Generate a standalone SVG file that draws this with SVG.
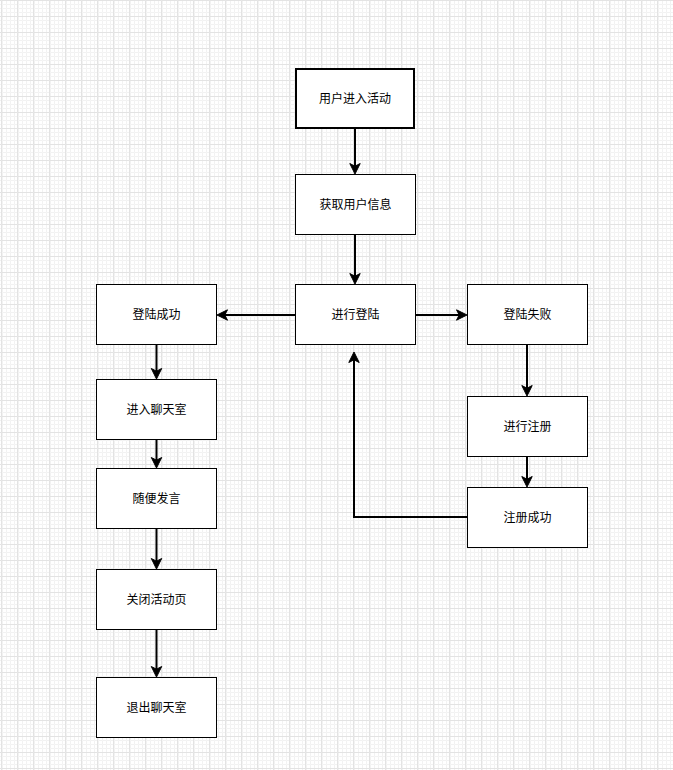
<svg xmlns="http://www.w3.org/2000/svg" width="673" height="770" viewBox="0 0 673 770">
<style>
.box{fill:#ffffff;stroke:#000000;stroke-width:1}
.start{fill:#ffffff;stroke:#000000;stroke-width:2}
.lbl{font-family:"Liberation Sans","Noto Sans CJK SC",sans-serif;font-size:12px;fill:#000000;text-anchor:middle}
.edge{fill:none;stroke:#000000;stroke-width:2;marker-end:url(#arr)}
</style>
<defs>
<pattern id="minor" x="1" y="0" width="4" height="4" patternUnits="userSpaceOnUse">
<path d="M4 0.5 H0.5 V4" fill="none" stroke="#f2f2f2" stroke-width="1"/>
</pattern>
<pattern id="major" x="1" y="0" width="16" height="16" patternUnits="userSpaceOnUse">
<rect width="16" height="16" fill="url(#minor)"/>
<path d="M16 0.5 H0.5 V16" fill="none" stroke="#e3e3e3" stroke-width="1"/>
</pattern>
<marker id="arr" markerUnits="userSpaceOnUse" markerWidth="16" markerHeight="16" viewBox="-12 -8 16 16" refX="-7" refY="0" orient="auto" overflow="visible">
<path d="M0 0 L-10.5 -5.2 L-7.8 0 L-10.5 5.2 Z" fill="#000000" stroke="#000000" stroke-width="1"/>
</marker>
</defs>
<rect width="673" height="770" fill="#ffffff"/>
<rect width="673" height="770" fill="url(#major)"/>

<g id="connectors">
<path class="edge" d="M355 129 V167"/>
<path class="edge" d="M355 235 V277"/>
<path class="edge" d="M295 315 H224"/>
<path class="edge" d="M415 315 H460"/>
<path class="edge" d="M156.5 345 V372"/>
<path class="edge" d="M156.5 439 V461"/>
<path class="edge" d="M156.5 528 V562"/>
<path class="edge" d="M156.5 629 V670"/>
<path class="edge" d="M527 345 V389"/>
<path class="edge" d="M527 456 V480"/>
<path class="edge" d="M467 517 H354 V359"/>
</g>

<g id="n1"><rect class="start" x="296" y="69" width="118" height="59"/><text class="lbl" x="355" y="103">用户进入活动</text></g>
<g id="n2"><rect class="box" x="295.5" y="174.5" width="120" height="60"/><text class="lbl" x="355.5" y="209">获取用户信息</text></g>
<g id="n3"><rect class="box" x="295.5" y="284.5" width="120" height="60"/><text class="lbl" x="355.5" y="319">进行登陆</text></g>
<g id="n4"><rect class="box" x="96.5" y="284.5" width="120" height="60"/><text class="lbl" x="156.5" y="319">登陆成功</text></g>
<g id="n5"><rect class="box" x="96.5" y="379.5" width="120" height="60"/><text class="lbl" x="156.5" y="414">进入聊天室</text></g>
<g id="n6"><rect class="box" x="96.5" y="468.5" width="120" height="60"/><text class="lbl" x="156.5" y="503">随便发言</text></g>
<g id="n7"><rect class="box" x="96.5" y="569.5" width="120" height="60"/><text class="lbl" x="156.5" y="604">关闭活动页</text></g>
<g id="n8"><rect class="box" x="96.5" y="677.5" width="120" height="60"/><text class="lbl" x="156.5" y="712">退出聊天室</text></g>
<g id="n9"><rect class="box" x="467.5" y="284.5" width="120" height="60"/><text class="lbl" x="527.5" y="319">登陆失败</text></g>
<g id="n10"><rect class="box" x="467.5" y="396.5" width="120" height="60"/><text class="lbl" x="527.5" y="431">进行注册</text></g>
<g id="n11"><rect class="box" x="467.5" y="487.5" width="120" height="60"/><text class="lbl" x="527.5" y="522">注册成功</text></g>
</svg>
